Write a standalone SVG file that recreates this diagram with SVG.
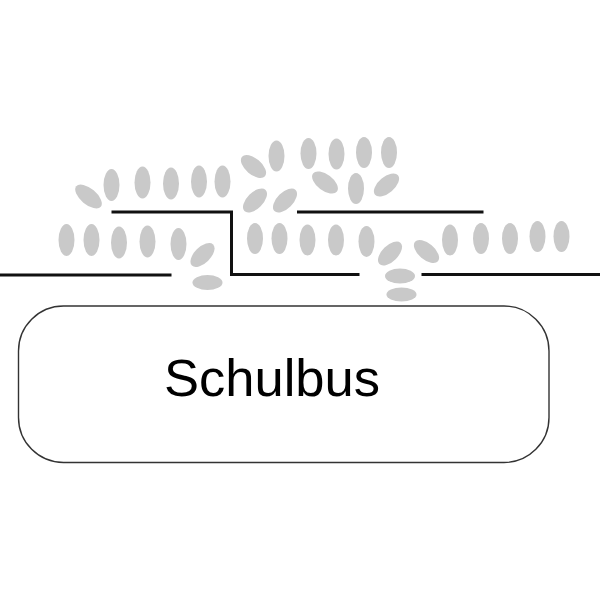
<svg xmlns="http://www.w3.org/2000/svg" width="600" height="600" viewBox="0 0 600 600">
<style>
.p{fill:#c9c9c9}
.w{fill:none;stroke:#111;stroke-width:3}
.bus{fill:#fff;stroke:#333;stroke-width:1.4}
.t{font-family:"Liberation Sans",Arial,sans-serif;font-size:52.5px;fill:#000}
</style>
<rect width="600" height="600" fill="#fff"/>
<g id="walls">
<polyline class="w" points="0,275 171.5,275"/>
<polyline class="w" points="111.5,212 231.5,212 231.5,274.5 359.5,274.5"/>
<polyline class="w" points="297,212 483.5,212"/>
<polyline class="w" points="421.5,274.5 600,274.5"/>
</g>
<g id="people">
<ellipse class="p" cx="88.5" cy="196.5" rx="16" ry="8" transform="rotate(40 88.5 196.5)"/>
<ellipse class="p" cx="111.5" cy="185" rx="8" ry="16"/>
<ellipse class="p" cx="142.5" cy="182.5" rx="8" ry="16"/>
<ellipse class="p" cx="171" cy="183.5" rx="8" ry="16"/>
<ellipse class="p" cx="199" cy="181.5" rx="8" ry="16"/>
<ellipse class="p" cx="222.5" cy="181.5" rx="8" ry="16"/>
<ellipse class="p" cx="66.5" cy="240" rx="8" ry="16"/>
<ellipse class="p" cx="91.5" cy="240" rx="8" ry="16"/>
<ellipse class="p" cx="119" cy="242.5" rx="8" ry="16"/>
<ellipse class="p" cx="147.5" cy="241.5" rx="8" ry="16"/>
<ellipse class="p" cx="178.5" cy="244" rx="8" ry="16"/>
<ellipse class="p" cx="202.5" cy="255" rx="15" ry="8" transform="rotate(-45 202.5 255)"/>
<ellipse class="p" cx="207.5" cy="282.5" rx="15" ry="7.5"/>
<ellipse class="p" cx="253.5" cy="166.5" rx="15" ry="8" transform="rotate(40 253.5 166.5)"/>
<ellipse class="p" cx="276.5" cy="156" rx="8" ry="15.5"/>
<ellipse class="p" cx="308.5" cy="153.5" rx="8" ry="15.5"/>
<ellipse class="p" cx="336.5" cy="154" rx="8" ry="15.5"/>
<ellipse class="p" cx="364" cy="152.5" rx="8" ry="15.5"/>
<ellipse class="p" cx="389" cy="152.5" rx="8" ry="15.5"/>
<ellipse class="p" cx="325" cy="182.5" rx="15" ry="8" transform="rotate(37 325 182.5)"/>
<ellipse class="p" cx="356" cy="188.5" rx="8" ry="15.5"/>
<ellipse class="p" cx="386.5" cy="185" rx="15" ry="8" transform="rotate(-40 386.5 185)"/>
<ellipse class="p" cx="255" cy="200.5" rx="15" ry="8" transform="rotate(-45 255 200.5)"/>
<ellipse class="p" cx="285" cy="200.5" rx="15" ry="8" transform="rotate(-45 285 200.5)"/>
<ellipse class="p" cx="255" cy="238.5" rx="8" ry="15.5"/>
<ellipse class="p" cx="279.5" cy="238.5" rx="8" ry="15.5"/>
<ellipse class="p" cx="307.5" cy="240" rx="8" ry="15.5"/>
<ellipse class="p" cx="336" cy="240" rx="8" ry="15.5"/>
<ellipse class="p" cx="366.5" cy="241.5" rx="8" ry="15.5"/>
<ellipse class="p" cx="390" cy="253.5" rx="15" ry="8" transform="rotate(-45 390 253.5)"/>
<ellipse class="p" cx="426.5" cy="251.5" rx="15" ry="8" transform="rotate(40 426.5 251.5)"/>
<ellipse class="p" cx="400" cy="276" rx="15" ry="7.5"/>
<ellipse class="p" cx="401.5" cy="294.5" rx="15" ry="7"/>
<ellipse class="p" cx="450" cy="240" rx="8" ry="15.5"/>
<ellipse class="p" cx="481" cy="238.5" rx="8" ry="15.5"/>
<ellipse class="p" cx="510" cy="238.5" rx="8" ry="15.5"/>
<ellipse class="p" cx="537.5" cy="236.5" rx="8" ry="15.5"/>
<ellipse class="p" cx="561.5" cy="236.5" rx="8" ry="15.5"/>
</g>
<g id="schulbus">
<rect class="bus" x="18.5" y="306" width="530.5" height="156.5" rx="45" ry="45"/>
<text class="t" x="164" y="396">Schulbus</text>
</g>
</svg>
